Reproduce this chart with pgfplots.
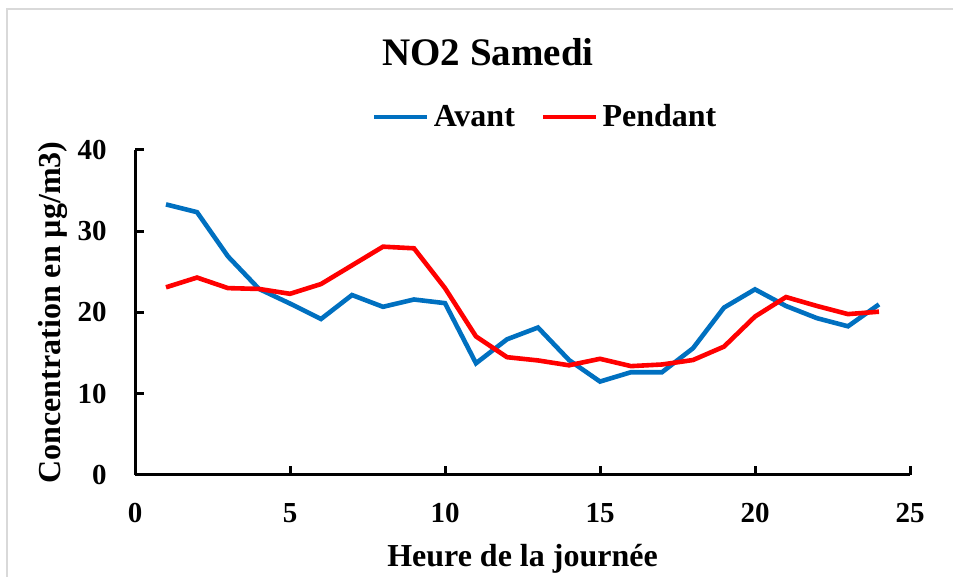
\documentclass[border=0pt]{standalone}
\usepackage{pgfplots}
\pgfplotsset{compat=1.18}
\usepackage{fontspec}
\setmainfont{Liberation Serif}
\definecolor{avant}{HTML}{0070C0}
\definecolor{pendant}{HTML}{FF0000}
\begin{document}
\begin{tikzpicture}
\useasboundingbox (-67.5pt,-51pt) rectangle (409pt,237.5pt);
\draw[black!15, line width=0.8pt] (-64pt,-60pt) -- (-64pt,233pt) -- (420pt,233pt);
\begin{axis}[
  at={(0pt,0pt)}, anchor=south west,
  scale only axis,
  width=387.5pt, height=162.5pt,
  xmin=0, xmax=25, ymin=0, ymax=40,
  xtick={0,5,10,15,20,25},
  ytick={0,10,20,30,40},
  axis x line*=bottom, axis y line*=left,
  axis line style={line width=1.5pt, -},
  every outer x axis line/.append style={line width=1.5pt, -},
  every outer y axis line/.append style={line width=1.5pt, -},
  xtick align=inside, ytick align=inside,
  major tick length=4.5pt,
  every tick/.style={line width=1.5pt, black},
  tick label style={font=\fontsize{14.5}{16}\selectfont\bfseries, inner sep=0pt},
  /pgf/number format/assume math mode=true,
  xticklabel style={yshift=-14pt, anchor=north},
  yticklabel style={xshift=-14pt, anchor=east},
  every axis title shift=0pt,
  title={NO2 Samedi},
  title style={at={(axis description cs:0.4555,1.2615)}, anchor=base, yshift=0pt, inner sep=0pt, font=\fontsize{19.5}{22}\selectfont\bfseries},
  xlabel={Heure de la journée},
  xlabel style={at={(axis description cs:0.5,0)}, anchor=base, yshift=-46pt, inner sep=0pt, font=\fontsize{16}{18}\selectfont\bfseries},
  ylabel={Concentration en µg/m3)},
  ylabel style={at={(axis description cs:0,0.5)}, anchor=base, yshift=37pt, inner sep=0pt, font=\fontsize{16}{18}\selectfont\bfseries},
  legend columns=2,
  legend style={at={(axis description cs:0.306,1.1015)}, anchor=west, draw=none, fill=none,
    inner sep=0pt, outer sep=0pt, font=\fontsize{16}{18}\selectfont\bfseries,
    nodes={inner sep=0pt}, column sep=2pt,
    /tikz/every even column/.append style={column sep=13pt}},
  legend image code/.code={\draw[#1, line width=2.3pt] (0pt,0pt) -- (26.5pt,0pt);},
  clip=false,
]
\addplot[avant, line width=2.3pt] coordinates {
(1,33.3) (2,32.35) (3,26.9) (4,22.9) (5,21.1) (6,19.2) (7,22.15) (8,20.7)
(9,21.6) (10,21.15) (11,13.75) (12,16.7) (13,18.15) (14,14.15) (15,11.5)
(16,12.65) (17,12.65) (18,15.6) (19,20.6) (20,22.85) (21,20.8) (22,19.3)
(23,18.3) (24,21.0)};
\addlegendentry{Avant}
\addplot[pendant, line width=2.3pt] coordinates {
(1,23.1) (2,24.3) (3,23.0) (4,22.9) (5,22.3) (6,23.5) (7,25.8) (8,28.1)
(9,27.9) (10,23.0) (11,17.05) (12,14.5) (13,14.1) (14,13.5) (15,14.3)
(16,13.4) (17,13.6) (18,14.15) (19,15.8) (20,19.5) (21,21.9) (22,20.8)
(23,19.8) (24,20.1)};
\addlegendentry{Pendant}
\end{axis}
\end{tikzpicture}
\end{document}
